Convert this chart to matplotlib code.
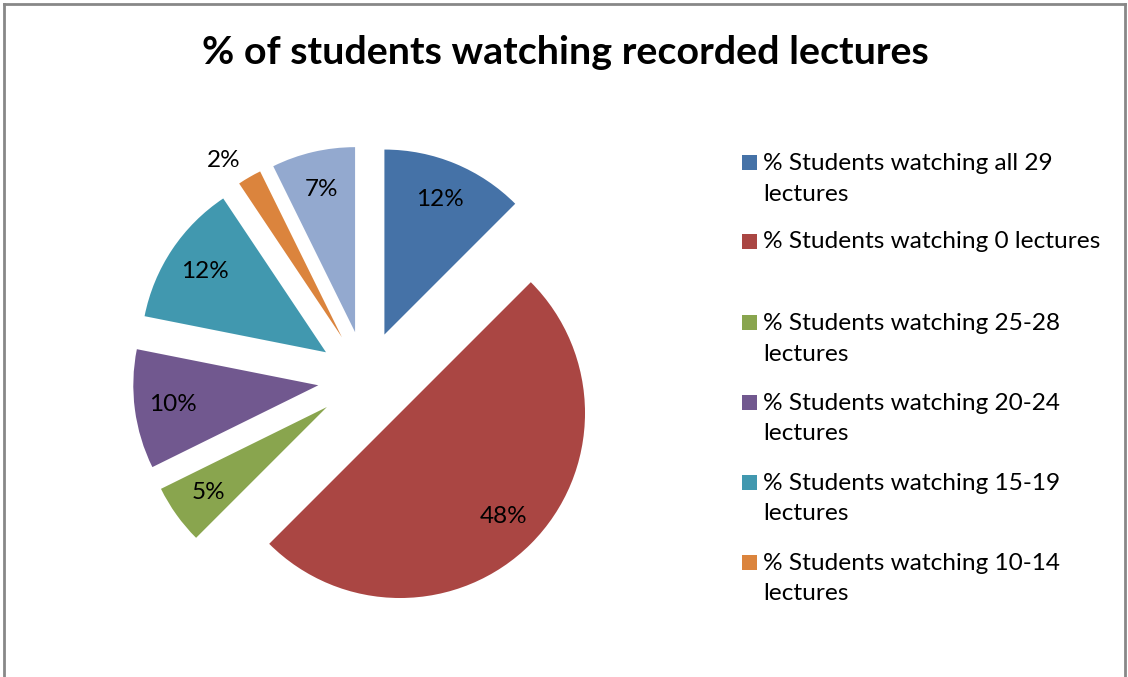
import matplotlib
matplotlib.use("Agg")
import matplotlib.pyplot as plt
from matplotlib.patches import Rectangle
from matplotlib.lines import Line2D
import numpy as np

plt.rcParams['font.family'] = ['Lato', 'DejaVu Sans']

title = "% of students watching recorded lectures"
categories = [
    "% Students watching all 29 lectures",
    "% Students watching 0 lectures",
    "% Students watching 25-28 lectures",
    "% Students watching 20-24 lectures",
    "% Students watching 15-19 lectures",
    "% Students watching 10-14 lectures",
    "% Students watching 1-9 lectures",
]
values = [12, 48, 5, 10, 12, 2, 7]
legend_labels = [
    "% Students watching all 29\nlectures",
    "% Students watching 0 lectures",
    "% Students watching 25-28\nlectures",
    "% Students watching 20-24\nlectures",
    "% Students watching 15-19\nlectures",
    "% Students watching 10-14\nlectures",
]
colors = ["#4572A7", "#AA4643", "#89A54E", "#71588F", "#4198AF", "#DB843D", "#93A9CF"]

W, H = 1128, 677
fig = plt.figure(figsize=(W / 100, H / 100), dpi=100)

# pie axes: center (366,379) px, radius 185 px
L = 1.5
size = 2 * L * 185
cx, cy = 366, 379
ax = fig.add_axes([(cx - size / 2) / W, (H - cy - size / 2) / H, size / W, size / H])
wedges, texts, autotexts = ax.pie(
    values, colors=colors, startangle=90, counterclock=False,
    explode=[0.26] * len(values), radius=1.0,
    autopct=lambda p: "", pctdistance=0.79,
    wedgeprops=dict(linewidth=0),
)
for w, v, t in zip(wedges, values, autotexts):
    t.set_text(f"{v}%")
    t.set_fontsize(17.5)
    t.set_color("black")
# move the small slice's label outside
w = wedges[5]
ang = np.deg2rad((w.theta1 + w.theta2) / 2 + 3)
autotexts[5].set_position(((0.26 + 1.15) * np.cos(ang), (0.26 + 1.15) * np.sin(ang)))
ax.set_xlim(-L, L)
ax.set_ylim(-L, L)
ax.set_aspect('equal')
ax.axis('off')

fig.text(565 / W, 1 - 52 / H, title, ha='center', va='center',
         fontsize=28.4, fontweight='bold')

# legend (first six entries)
ys = [163, 242, 323, 403, 483, 563]
for lab, col, y in zip(legend_labels, colors, ys):
    fig.patches.append(Rectangle((742 / W, 1 - (y + 7) / H), 15 / W, 15 / H,
                                 transform=fig.transFigure, facecolor=col, edgecolor='none'))
    for k, line in enumerate(lab.split("\n")):
        fig.text(763 / W, 1 - (y + 31 * k) / H, line, ha='left', va='center', fontsize=17.6)

# chart border
for xs, yv in [([4, 4], [0, 673]), ([4, 1125], [673, 673]), ([1125, 1125], [673, 0])]:
    fig.add_artist(Line2D([x / W for x in xs], [v / H for v in yv], transform=fig.transFigure,
                          color='#888888', linewidth=2))

fig.savefig("out.png", dpi=100)
